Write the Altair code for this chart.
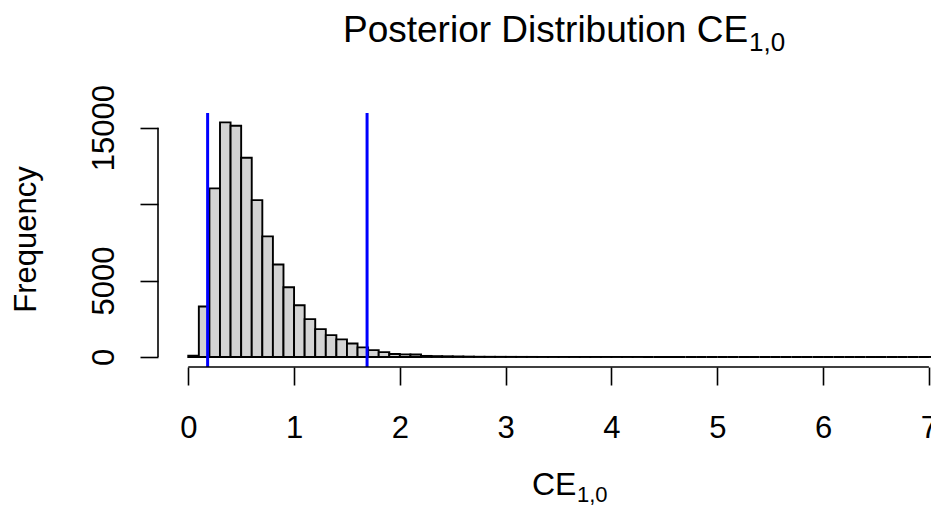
import altair as alt
import numpy as np
import pandas as pd

# ---- data (bins of width 0.1) ----
bin_width = 0.1
counts = [
    80, 3300, 11030, 15350, 15130, 13030, 10260, 7890, 6050, 4560,   # 0.0 - 1.0
    3380, 2480, 1820, 1430, 1150, 880, 630, 450, 320, 200,            # 1.0 - 2.0
    170, 160, 70, 55, 45, 35, 25, 15, 12, 10,                         # 2.0 - 3.0
    8, 6, 5, 4, 3, 3, 2, 2, 2, 1,                                     # 3.0 - 4.0
    1, 1, 1, 0, 0, 1, 0, 0, 0, 0,                                     # 4.0 - 5.0
    0, 0, 0, 0, 0, 0, 0, 0, 0, 0,                                     # 5.0 - 6.0
    0, 0, 0, 0, 0, 0, 0, 0, 0, 0,                                     # 6.0 - 7.0
    1,                                                                # 7.0 - 7.1
]
interval_lines = [0.183, 1.69]
x_ticks = [0, 1, 2, 3, 4, 5, 6, 7]
y_ticks = [0, 5000, 10000, 15000]

title_main = "Posterior Distribution CE"
title_sub = "1,0"
xlab_main = "CE"
xlab_sub = "1,0"
ylab = "Frequency"

FONT = "Liberation Sans, Arial, Helvetica, sans-serif"

starts = np.round(np.arange(len(counts)) * bin_width, 2)
hist = pd.DataFrame({"start": starts, "end": np.round(starts + bin_width, 2), "count": counts})

W, H = 773, 254
xs = alt.Scale(domain=[-0.286, 7.02], nice=False, zero=False)
ys = alt.Scale(domain=[-655, 15962], nice=False, zero=False)

xaxis = alt.Axis(
    values=x_ticks, format="d", domain=False, grid=False, ticks=True,
    tickSize=18, tickWidth=1.6, tickColor="black",
    labelFontSize=31, labelPadding=28, labelColor="black", labelFont=FONT,
    labelFlush=False, labelOverlap=False, title=None)

yaxis = alt.Axis(
    values=y_ticks, format="d", domain=False, grid=False, ticks=True,
    tickSize=18, tickWidth=1.6, tickColor="black",
    labelExpr="datum.value == 10000 ? '' : datum.label",
    labelAngle=270, labelAlign="center", labelBaseline="alphabetic",
    labelFontSize=31, labelPadding=27, labelColor="black", labelFont=FONT,
    labelFlush=False, labelOverlap=False,
    title=ylab, titleAngle=270, titleX=-123, titleY=126,
    titleAlign="center", titleBaseline="alphabetic",
    titleFontSize=31, titleFontWeight="normal", titleColor="black", titleFont=FONT)

bars = alt.Chart(hist).mark_bar(
    fill="#D3D3D3", stroke="black", strokeWidth=1.9, fillOpacity=1
).encode(
    x=alt.X("start:Q", scale=xs, axis=xaxis),
    x2="end:Q",
    y=alt.Y("count:Q", scale=ys, axis=yaxis),
    y2=alt.datum(0),
)

ci = alt.Chart(pd.DataFrame({"v": interval_lines})).mark_rule(
    color="#0000FF", strokeWidth=3
).encode(
    x=alt.X("v:Q", scale=xs, axis=xaxis),
    y=alt.value(0),
    y2=alt.value(H),
)

xaxis_line = alt.Chart(pd.DataFrame({"a": [x_ticks[0]], "b": [x_ticks[-1]]})).mark_rule(
    color="black", strokeWidth=1.6
).encode(
    x=alt.X("a:Q", scale=xs, axis=xaxis),
    x2="b:Q",
    y=alt.value(H),
)

yaxis_line = alt.Chart(pd.DataFrame({"a": [y_ticks[0]], "b": [y_ticks[-1]]})).mark_rule(
    color="black", strokeWidth=1.6
).encode(
    y=alt.Y("a:Q", scale=ys, axis=yaxis),
    y2="b:Q",
    x=alt.value(0),
)


def label(text, x, y, size, align="left"):
    return alt.Chart(pd.DataFrame({"t": [text]})).mark_text(
        align=align, baseline="alphabetic", fontSize=size, font=FONT, color="black"
    ).encode(text="t:N", x=alt.value(x), y=alt.value(y))


t1 = label(title_main, 185, -71, 37)
t2 = label(title_sub, 591, -62, 26)
x1 = label(xlab_main, 374, 382, 32)
x2 = label(xlab_sub, 419, 389, 22)

chart = alt.layer(bars, ci, xaxis_line, yaxis_line, t1, t2, x1, x2).properties(
    width=W, height=H,
    autosize=alt.AutoSizeParams(type="none"),
    padding={"left": 150, "top": 105, "right": 0, "bottom": 139},
    background="white",
).configure_view(stroke=None)

chart.save("out.html", embed_options={"renderer": "svg", "actions": False})
